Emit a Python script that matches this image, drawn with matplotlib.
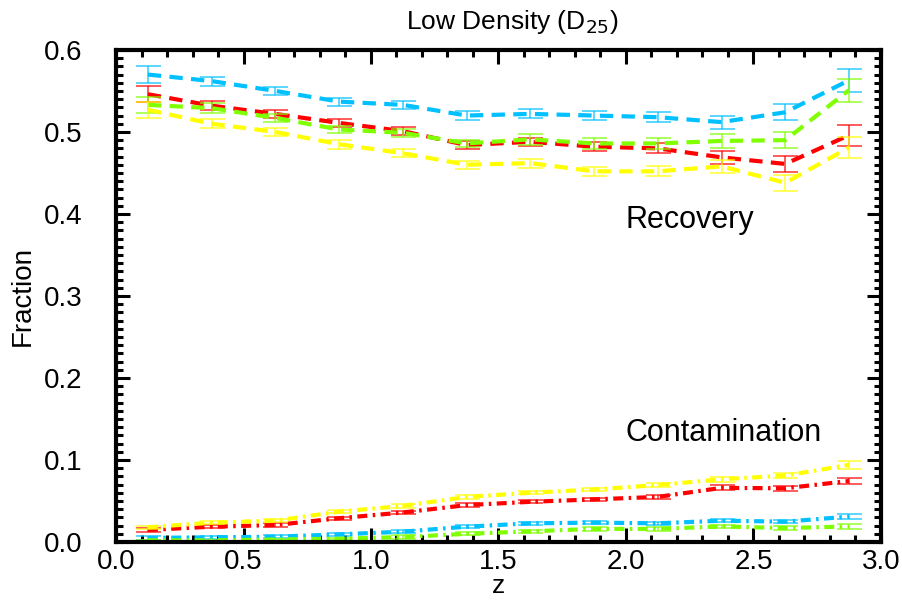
import numpy as np
import matplotlib.pyplot as plt
from matplotlib.ticker import MultipleLocator

plt.rcParams['font.family'] = ['Liberation Sans', 'DejaVu Sans']

# redshift bin centres
z = [0.125, 0.375, 0.625, 0.875, 1.125, 1.375, 1.625, 1.875, 2.125, 2.375, 2.625, 2.875]

colors = ['#00C0FF', '#FF0000', '#7FFF00', '#FFFF00']

# recovery fractions (blue, red, green, yellow)
rec_blue = [0.570, 0.562, 0.550, 0.537, 0.533, 0.520, 0.522, 0.520, 0.518, 0.512, 0.524, 0.563]
rec_red = [0.546, 0.532, 0.522, 0.511, 0.501, 0.484, 0.488, 0.482, 0.480, 0.469, 0.461, 0.496]
rec_green = [0.533, 0.529, 0.517, 0.503, 0.499, 0.486, 0.491, 0.486, 0.486, 0.489, 0.490, 0.551]
rec_yellow = [0.527, 0.510, 0.500, 0.485, 0.474, 0.460, 0.462, 0.452, 0.452, 0.458, 0.438, 0.481]

rec_err_blue = [0.0103, 0.0055, 0.005, 0.005, 0.005, 0.005, 0.0055, 0.006, 0.006, 0.008, 0.010, 0.014]
rec_err_red = [0.010, 0.0055, 0.0045, 0.005, 0.005, 0.0053, 0.005, 0.0057, 0.006, 0.0075, 0.0097, 0.0127]
rec_err_green = [0.0095, 0.006, 0.005, 0.0045, 0.005, 0.004, 0.0067, 0.0065, 0.0065, 0.008, 0.010, 0.014]
rec_err_yellow = [0.0097, 0.0055, 0.0047, 0.0053, 0.005, 0.0047, 0.0055, 0.0053, 0.006, 0.008, 0.0095, 0.0125]

# contamination fractions
con_blue = [0.005, 0.0057, 0.0065, 0.0093, 0.0126, 0.0187, 0.0228, 0.0236, 0.0228, 0.026, 0.0248, 0.031]
con_red = [0.0146, 0.0187, 0.0207, 0.029, 0.036, 0.045, 0.049, 0.052, 0.055, 0.066, 0.0655, 0.0744]
con_green = [0.002, 0.002, 0.003, 0.004, 0.006, 0.010, 0.013, 0.016, 0.016, 0.019, 0.017, 0.019]
con_yellow = [0.018, 0.0236, 0.026, 0.037, 0.044, 0.055, 0.060, 0.064, 0.0695, 0.0765, 0.081, 0.094]

con_err_blue = [0.002, 0.002, 0.002, 0.002, 0.002, 0.002, 0.002, 0.002, 0.002, 0.002, 0.002, 0.003]
con_err_red = [0.002, 0.002, 0.002, 0.002, 0.002, 0.002, 0.002, 0.002, 0.002, 0.003, 0.003, 0.004]
con_err_green = [0.001, 0.001, 0.001, 0.001, 0.002, 0.002, 0.002, 0.002, 0.002, 0.002, 0.002, 0.003]
con_err_yellow = [0.002, 0.002, 0.002, 0.002, 0.002, 0.002, 0.002, 0.002, 0.003, 0.003, 0.003, 0.005]

recovery = [rec_blue, rec_red, rec_green, rec_yellow]
rec_err = [rec_err_blue, rec_err_red, rec_err_green, rec_err_yellow]
contamination = [con_blue, con_red, con_green, con_yellow]
con_err = [con_err_blue, con_err_red, con_err_green, con_err_yellow]

fig = plt.figure(figsize=(9.03, 6.06), dpi=100)
ax = fig.add_axes([0.1285, 0.1056, 0.847, 0.812])

for y, e, c in zip(recovery, rec_err, colors):
    ax.errorbar(z, y, yerr=e, fmt='none', ecolor=c, elinewidth=1.2,
                capsize=9, capthick=1.2, alpha=0.75)
    ax.plot(z, y, color=c, lw=3, dashes=(3.2, 2.0))

for y, e, c in zip(contamination, con_err, colors):
    ax.errorbar(z, y, yerr=e, fmt='none', ecolor=c, elinewidth=1.2,
                capsize=9, capthick=1.2, alpha=0.75)
    ax.plot(z, y, color=c, lw=3, dashes=(2.4, 1.3, 0.6, 1.3))

ax.set_xlim(0, 3.0)
ax.set_ylim(0, 0.6)
ax.xaxis.set_major_locator(MultipleLocator(0.5))
ax.xaxis.set_minor_locator(MultipleLocator(0.1))
ax.yaxis.set_major_locator(MultipleLocator(0.1))
ax.yaxis.set_minor_locator(MultipleLocator(0.01))
ax.xaxis.set_major_formatter(plt.FormatStrFormatter('%.1f'))
ax.yaxis.set_major_formatter(plt.FormatStrFormatter('%.1f'))

ax.tick_params(which='both', direction='in', top=True, right=True, width=2.2,
               labelsize=20)
ax.tick_params(which='major', length=10)
ax.tick_params(which='minor', length=5)
ax.tick_params(axis='x', which='major', pad=5)
ax.tick_params(axis='y', which='major', pad=24)
for s in ax.spines.values():
    s.set_linewidth(3)

ax.set_xlabel('z', fontsize=19, labelpad=-1)
ax.set_ylabel('Fraction', fontsize=20, labelpad=6)
fig.text(0.567, 0.963, r'Low Density (D$_{25}$)', fontsize=19, ha='center', va='center')

ax.text(2.0, 0.393, 'Recovery', fontsize=22, va='center')
ax.text(2.0, 0.133, 'Contamination', fontsize=22, va='center')

fig.savefig('out.png', dpi=100)
